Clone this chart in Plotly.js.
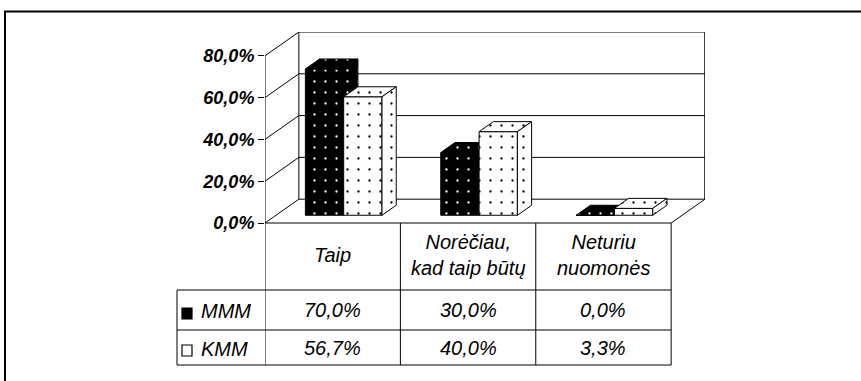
<!DOCTYPE html>
<html>
<head>
<meta charset="utf-8">
<script src="https://cdn.plot.ly/plotly-3.0.1.min.js"></script>
<style>
  html, body { margin: 0; padding: 0; background: #fff; }
  #chart { width: 861px; height: 381px; }
</style>
</head>
<body>
<div id="chart"></div>
<script>
// ---- data ----
const categories = ['Taip', 'Norėčiau,<br>kad taip būtų', 'Neturiu<br>nuomonės'];
const seriesNames = ['MMM', 'KMM'];
const mmmValues = [70.0, 30.0, 0.0];
const kmmValues = [56.7, 40.0, 3.3];
const yTickValues = [0, 20, 40, 60, 80];

// ---- geometry of the pseudo-3D box (in axis units) ----
const W = 861, H = 381;
const M = { l: 265, r: 156, t: 32, b: 158 };
const DX = 0.25;          // horizontal shift of the back wall, in category units
const DY = 11.4;          // vertical shift of the back wall, in percent units
const FRONT = 0.325;      // bar front face, fraction of floor depth
const BACK = 0.745;       // bar back face, fraction of floor depth
const BAR_W = 0.283;      // bar width, in category units
const Y_TOP = yTickValues[yTickValues.length - 1];
const FONT = 'Liberation Sans, Arial, sans-serif';

const nCat = categories.length;
const base = FRONT * DY;
const ddx = (BACK - FRONT) * DX;
const ddy = (BACK - FRONT) * DY;

const plotW = W - M.l - M.r, plotH = H - M.t - M.b;
const px = x => (x - M.l) / plotW;            // page pixel -> paper x
const py = y => (H - M.b - y) / plotH;        // page pixel -> paper y

const fmt = v => v.toFixed(1).replace('.', ',') + '%';

function dots(bg, fg) {
  return { shape: '.', bgcolor: bg, fgcolor: fg, size: 11, solidity: 0.035 };
}

// front face (bar), top face and right side face for one series
function seriesTraces(values, idx, xa, ya) {
  const dark = idx === 0;
  const bg = dark ? '#000000' : '#ffffff';
  const fg = dark ? '#ffffff' : '#000000';
  const centers = values.map((v, i) => i + 0.5 + FRONT * DX + (idx - 0.5) * BAR_W);

  const front = {
    type: 'bar', name: seriesNames[idx], x: centers, y: values, base: base,
    width: BAR_W, xaxis: xa, yaxis: ya, hoverinfo: 'skip',
    marker: { color: bg, pattern: dots(bg, fg), line: { color: '#000', width: 1 } }
  };

  const tx = [], ty = [], sx = [], sy = [];
  values.forEach((v, i) => {
    const x0 = centers[i] - BAR_W / 2, x1 = centers[i] + BAR_W / 2, yt = base + v;
    tx.push(x0, x1, x1 + ddx, x0 + ddx, x0, null);
    ty.push(yt, yt, yt + ddy, yt + ddy, yt, null);
    sx.push(x1, x1 + ddx, x1 + ddx, x1, x1, null);
    sy.push(base, base + ddy, yt + ddy, yt, base, null);
  });
  const face = (x, y) => ({
    type: 'scatter', mode: 'lines', x: x, y: y, fill: 'toself',
    fillcolor: bg, fillpattern: dots(bg, fg), xaxis: xa, yaxis: ya,
    line: { color: '#000', width: 1 }, hoverinfo: 'skip', showlegend: false
  });
  return [front, face(tx, ty), face(sx, sy)];
}

const traces = [
  ...seriesTraces(mmmValues, 0, 'x', 'y'),
  ...seriesTraces(kmmValues, 1, 'x2', 'y2')
];

// ---- walls, floor and gridlines ----
const shapes = [];
const line = (x0, y0, x1, y1, w) => ({
  type: 'line', xref: 'x', yref: 'y', x0, y0, x1, y1, layer: 'below',
  line: { color: '#000', width: w || 1 }
});
yTickValues.forEach(v => {
  shapes.push(line(0, v, DX, v + DY));                    // side wall
  shapes.push(line(DX, v + DY, nCat + DX, v + DY));       // back wall
});
shapes.push(line(0, 0, 0, Y_TOP));                        // value axis
shapes.push(line(DX, DY, DX, Y_TOP + DY));                // back-left edge
shapes.push(line(nCat + DX, DY, nCat + DX, Y_TOP + DY, 1.5)); // back-right edge
shapes.push(line(nCat, 0, nCat + DX, DY));                // floor right edge

// ---- data table under the plot ----
const tblRows = [223, 290, 330, 365];     // header top, row lines, bottom (page px)
const tblLeft = 177;
const hline = (xpx0, ypx) => ({
  type: 'line', xref: 'paper', yref: 'paper', x0: px(xpx0), x1: nCat / (nCat + DX),
  y0: py(ypx), y1: py(ypx), line: { color: '#000', width: 1 }
});
shapes.push(hline(M.l, tblRows[0]));
for (let r = 1; r < tblRows.length; r++) shapes.push(hline(tblLeft, tblRows[r]));
for (let c = 0; c <= nCat; c++) {
  shapes.push({ type: 'line', xref: 'x', yref: 'paper', x0: c, x1: c,
    y0: py(tblRows[0]), y1: py(tblRows[3]), line: { color: '#000', width: 1 } });
}
shapes.push({ type: 'line', xref: 'paper', yref: 'paper', x0: px(tblLeft), x1: px(tblLeft),
  y0: py(tblRows[1]), y1: py(tblRows[3]), line: { color: '#000', width: 1 } });

// legend keys in the table
const keyBox = (ypx, fill) => ({
  type: 'rect', xref: 'paper', yref: 'paper', x0: px(182), x1: px(192),
  y0: py(ypx + 11), y1: py(ypx), fillcolor: fill, line: { color: '#000', width: 1.2 }
});
shapes.push(keyBox(308, '#000'));
shapes.push(keyBox(345, '#fff'));

// outer chart frame
shapes.push({ type: 'line', xref: 'paper', yref: 'paper', x0: px(4), x1: px(W + 2),
  y0: py(11.5), y1: py(11.5), line: { color: '#000', width: 2 } });
shapes.push({ type: 'line', xref: 'paper', yref: 'paper', x0: px(5), x1: px(5),
  y0: py(11), y1: py(H + 2), line: { color: '#000', width: 2 } });

const tf = { family: FONT, size: 20, color: '#000', style: 'italic' };
const annotations = [];
categories.forEach((c, i) => {
  annotations.push({ xref: 'x', yref: 'paper', x: i + 0.5, y: py(255), text: c,
    showarrow: false, xanchor: 'center', yanchor: 'middle', font: tf });
  annotations.push({ xref: 'x', yref: 'paper', x: i + 0.5, y: py(310), text: fmt(mmmValues[i]),
    showarrow: false, xanchor: 'center', yanchor: 'middle', font: tf });
  annotations.push({ xref: 'x', yref: 'paper', x: i + 0.5, y: py(348), text: fmt(kmmValues[i]),
    showarrow: false, xanchor: 'center', yanchor: 'middle', font: tf });
});
seriesNames.forEach((s, k) => {
  annotations.push({ xref: 'paper', yref: 'paper', x: px(199), y: py(k ? 349 : 311), text: s,
    showarrow: false, xanchor: 'left', yanchor: 'middle', font: tf });
});

const xr = [0, nCat + DX], yr = [0, Y_TOP + DY];
const layout = {
  width: W, height: H, margin: M, showlegend: false,
  paper_bgcolor: '#fff', plot_bgcolor: 'rgba(0,0,0,0)',
  barmode: 'overlay',
  xaxis: { range: xr, visible: false, fixedrange: true },
  yaxis: {
    range: yr, tickmode: 'array', tickvals: yTickValues, ticktext: yTickValues.map(fmt),
    ticks: 'outside', ticklen: 6, tickcolor: '#000', tickwidth: 1,
    showgrid: false, zeroline: false, showline: false, fixedrange: true,
    tickfont: { family: FONT, size: 18, color: '#000', weight: 'bold', style: 'italic' }
  },
  xaxis2: { range: xr, overlaying: 'x', visible: false, fixedrange: true },
  yaxis2: { range: yr, overlaying: 'y', visible: false, fixedrange: true },
  shapes: shapes,
  annotations: annotations
};

Plotly.newPlot('chart', traces, layout, { staticPlot: true, displayModeBar: false });
</script>
</body>
</html>
